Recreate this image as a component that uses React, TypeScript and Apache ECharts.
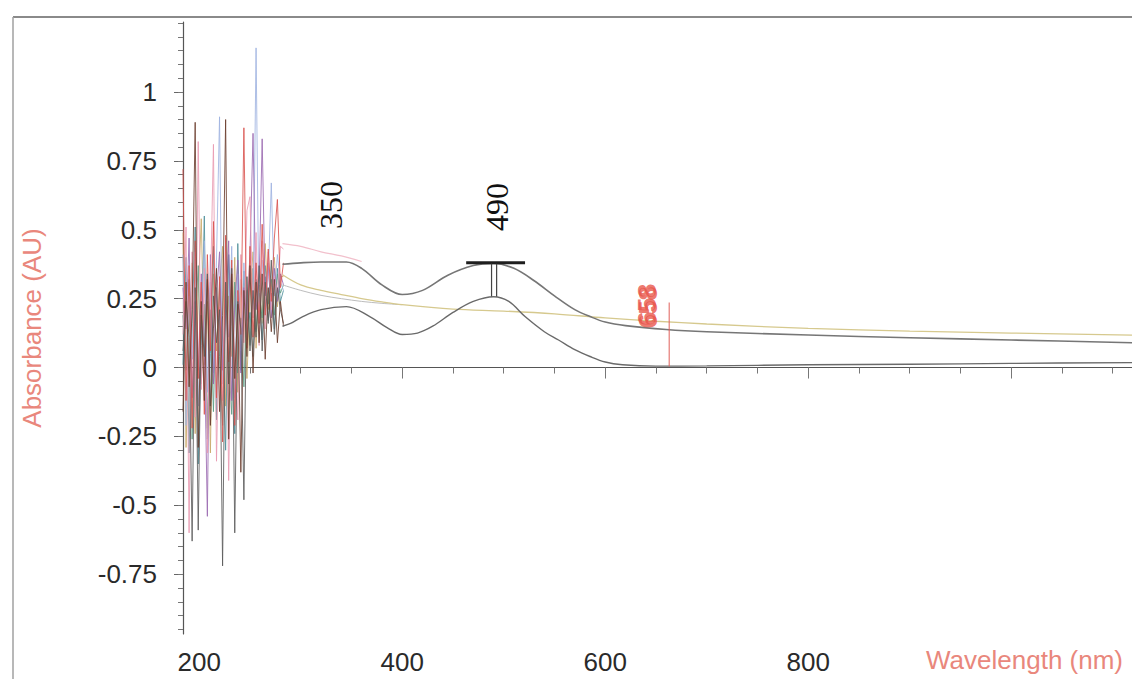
import React, { useEffect, useRef } from "react";
import * as echarts from "echarts";

// ---------- data ----------
const NOISE_NM = [184, 187, 190, 193, 196, 199, 202, 205, 208, 211, 214, 217, 220, 223, 226, 229, 232, 235, 238, 241, 244, 247, 250, 253, 256, 259, 262, 265, 268, 271, 274, 277, 280, 283];

const NOISE_RED = [0.72, -0.12, 0.37, -0.22, 0.46, -0.04, 0.31, -0.17, 0.41, 0.06, 0.53, -0.11, 0.33, -0.27, 0.48, 0.02, 0.39, -0.21, 0.28, 0.12, 0.87, 0.07, 0.44, 0.11, 0.38, 0.16, 0.52, 0.19, 0.43, 0.24, 0.47, 0.61, 0.29, 0.38];
const NOISE_PINK = [0.12, 0.51, -0.6, 0.42, -0.18, 0.82, -0.08, 0.36, -0.31, 0.27, 0.81, -0.34, 0.22, -0.12, 0.47, -0.41, 0.29, 0.04, -0.19, 0.41, 0.09, 0.57, 0.62, 0.18, 0.49, 0.08, 0.46, 0.14, 0.42, 0.21, 0.33, 0.27, 0.44, 0.43];
const NOISE_BROWN = [-0.16, 0.31, -0.07, 0.21, 0.89, -0.29, 0.24, -0.12, 0.32, -0.21, 0.14, 0.36, -0.16, 0.19, 0.9, -0.26, 0.34, -0.04, 0.23, -0.38, 0.28, 0.04, 0.37, -0.02, 0.31, 0.09, 0.34, 0.03, 0.29, 0.13, 0.32, 0.09, 0.24, 0.15];
const NOISE_BLUE = [0.41, -0.21, 0.26, 0.03, 0.42, -0.14, 0.18, 0.46, -0.09, 0.31, -0.02, 0.39, 0.91, -0.06, 0.28, 0.11, 0.44, -0.11, 0.34, 0.06, 0.38, 0.13, 0.36, 0.21, 1.16, 0.14, 0.39, 0.22, 0.33, 0.67, 0.26, 0.41, 0.31, 0.28];
const NOISE_GREEN = [0.19, -0.01, 0.32, -0.26, 0.16, 0.37, -0.06, 0.23, -0.22, 0.21, -0.16, 0.29, 0.04, -0.21, 0.26, 0.03, -0.17, 0.31, -0.02, 0.18, -0.07, 0.28, 0.08, 0.36, 0.13, 0.27, 0.18, 0.37, 0.23, 0.32, 0.19, 0.34, 0.27, 0.3];
const NOISE_PURPLE = [0.29, 0.14, 0.47, -0.11, 0.24, -0.01, 0.34, 0.09, -0.54, 0.41, -0.06, 0.26, 0.42, -0.01, 0.19, 0.46, -0.12, 0.23, 0.39, -0.02, 0.29, 0.17, 0.41, 0.85, 0.21, 0.31, 0.83, 0.26, 0.38, 0.18, 0.36, 0.24, 0.34, 0.3];
const NOISE_GRAY = [0.06, 0.24, 0.11, -0.63, 0.29, -0.59, 0.19, 0.04, 0.34, -0.14, 0.26, 0.09, 0.21, -0.72, 0.31, -0.06, 0.36, -0.6, 0.24, 0.14, -0.48, 0.33, 0.06, 0.28, 0.11, 0.37, 0.06, 0.31, 0.16, 0.39, 0.12, 0.29, 0.21, 0.16];
const NOISE_OLIVE = [0.49, -0.29, 0.12, 0.38, -0.24, 0.27, 0.54, 0.01, 0.24, -0.31, 0.34, 0.06, 0.29, 0.44, -0.14, 0.26, 0.04, 0.4, -0.09, 0.32, 0.2, -0.04, 0.26, 0.42, 0.07, 0.3, 0.16, 0.45, 0.21, 0.29, 0.4, 0.22, 0.33, 0.33];
const NOISE_TEAL = [0.01, 0.4, -0.31, 0.16, 0.51, -0.35, 0.08, 0.55, -0.26, 0.05, 0.44, -0.19, 0.31, 0.1, -0.3, 0.41, 0.15, -0.24, 0.45, -0.01, 0.35, 0.1, 0.2, 0.04, 0.32, 0.25, 0.1, 0.33, 0.17, 0.27, 0.14, 0.36, 0.24, 0.28];

const A_NM = [282, 300, 320, 345, 360, 380, 400, 420, 445, 470, 490, 510, 530, 550, 570, 585, 600, 620, 660, 700, 800, 900, 1000, 1119];
const A_VAL = [0.375, 0.38, 0.383, 0.383, 0.36, 0.3, 0.265, 0.28, 0.335, 0.37, 0.378, 0.36, 0.315, 0.26, 0.21, 0.185, 0.165, 0.152, 0.138, 0.13, 0.118, 0.108, 0.1, 0.09];

const B_NM = [282, 290, 302, 320, 345, 368, 385, 400, 415, 430, 450, 470, 490, 505, 521, 540, 554, 570, 585, 600, 617, 650, 700, 800, 900, 1000, 1119];
const B_VAL = [0.15, 0.16, 0.185, 0.21, 0.221, 0.185, 0.145, 0.12, 0.125, 0.15, 0.2, 0.24, 0.257, 0.24, 0.185, 0.13, 0.1, 0.065, 0.04, 0.02, 0.01, 0.005, 0.006, 0.01, 0.012, 0.015, 0.018];

const C_NM = [282, 300, 320, 340, 360, 380, 400, 450, 500, 550, 600, 650, 700, 800, 900, 1000, 1119];
const C_VAL = [0.337, 0.3, 0.28, 0.265, 0.25, 0.238, 0.228, 0.212, 0.205, 0.195, 0.18, 0.168, 0.158, 0.142, 0.132, 0.125, 0.118];

const D_NM = [282, 300, 320, 340, 360, 380, 400];
const D_VAL = [0.3, 0.28, 0.262, 0.25, 0.24, 0.233, 0.228];

const E_NM = [282, 300, 320, 340, 360];
const E_VAL = [0.45, 0.44, 0.42, 0.405, 0.385];

// peak markers
const BAR490_NM = [463, 521];
const BAR490_VAL = [0.38, 0.38];
const TICK490_NM = [488, 493];
const TICK490_VAL = [0.377, 0.258];
const MARK658_NM = 663;
const MARK658_VAL = [0.004, 0.236];

const X_LABELS = [200, 400, 600, 800];
const X_MAJOR_TICKS = [200, 400, 600, 800, 1000];
const X_MINOR_TICKS = [200, 250, 300, 350, 400, 450, 500, 550, 600, 650, 700, 750, 800, 850, 900, 950, 1000, 1050, 1100];
const Y_LABELS = [-0.75, -0.5, -0.25, 0, 0.25, 0.5, 0.75, 1];
const Y_MINOR_TICKS = [-0.95, -0.9, -0.85, -0.8, -0.75, -0.7, -0.65, -0.6, -0.55, -0.5, -0.45, -0.4, -0.35, -0.3, -0.25, -0.2, -0.15, -0.1, -0.05, 0, 0.05, 0.1, 0.15, 0.2, 0.25, 0.3, 0.35, 0.4, 0.45, 0.5, 0.55, 0.6, 0.65, 0.7, 0.75, 0.8, 0.85, 0.9, 0.95, 1, 1.05, 1.1, 1.15, 1.2, 1.25];

const ANNOT_BLACK = [
  { nm: 330, value: 0.59, text: "350" },
  { nm: 493, value: 0.583, text: "490" },
];
const ANNOT_RED = [
  { nm: 641, value: 0.228, text: "658" },
  { nm: 642, value: 0.218, text: "658" },
];

const X_MIN = 184;
const X_MAX = 1119;
const Y_MIN = -0.967;
const Y_MAX = 1.254;

const zip = (xs: number[], ys: number[]) => xs.map((x, i) => [x, ys[i]]);

export default function App() {
  const ref = useRef<HTMLDivElement>(null);
  useEffect(() => {
    if (!ref.current) return;
    const chart = echarts.init(ref.current, null, { renderer: "svg" });

    const noise = [
      { d: NOISE_OLIVE, c: "#c9a96a" },
      { d: NOISE_TEAL, c: "#4f8f9a" },
      { d: NOISE_GREEN, c: "#5f9e86" },
      { d: NOISE_BLUE, c: "#9fb3e0" },
      { d: NOISE_PURPLE, c: "#9a68b0" },
      { d: NOISE_PINK, c: "#e99ab2" },
      { d: NOISE_RED, c: "#d9534f" },
      { d: NOISE_GRAY, c: "#5a5a5a" },
      { d: NOISE_BROWN, c: "#6b3d2e" },
    ].map((s) => ({
      type: "line",
      data: zip(NOISE_NM, s.d),
      symbol: "none",
      lineStyle: { color: s.c, width: 1, opacity: 0.85 },
      silent: true,
      z: 2,
    }));

    const curve = (xs: number[], ys: number[], color: string, width: number) => ({
      type: "line",
      data: zip(xs, ys),
      symbol: "none",
      smooth: 0.35,
      lineStyle: { color, width },
      silent: true,
      z: 3,
    });

    const seg = (data: number[][], color: string, width: number) => ({
      type: "line",
      data,
      symbol: "none",
      lineStyle: { color, width },
      silent: true,
      z: 4,
    });

    const annot = (items: any[], color: string, font: string, size: number, weight: string, opacity = 1) => ({
      type: "scatter",
      data: items.map((a) => ({ value: [a.nm, a.value], name: a.text })),
      symbolSize: 0,
      silent: true,
      z: 5,
      label: {
        show: true,
        position: "inside",
        rotate: 90,
        formatter: (p: any) => p.name,
        color,
        opacity,
        fontFamily: font,
        fontSize: size,
        fontWeight: weight,
      },
    });

    const axisFont = "Liberation Sans, Arial, sans-serif";

    chart.setOption({
      animation: false,
      backgroundColor: "#ffffff",
      grid: { left: 183, top: 22, right: 0, bottom: 45, containLabel: false },
      xAxis: [
        {
          type: "value",
          min: X_MIN,
          max: X_MAX,
          position: "bottom",
          axisLine: { show: true, lineStyle: { color: "#555", width: 1.2 } },
          axisTick: { show: true, customValues: X_MINOR_TICKS, length: 6, lineStyle: { color: "#777" } },
          axisLabel: {
            show: true,
            customValues: X_LABELS,
            fontSize: 26,
            color: "#2a2a2a",
            fontFamily: axisFont,
            margin: 15,
          },
          splitLine: { show: false },
        },
        {
          type: "value",
          min: X_MIN,
          max: X_MAX,
          position: "bottom",
          axisLine: { show: false },
          axisTick: { show: true, customValues: X_MAJOR_TICKS, length: 11, lineStyle: { color: "#777" } },
          axisLabel: { show: false },
          splitLine: { show: false },
        },
      ],
      yAxis: [
        {
          type: "value",
          min: Y_MIN,
          max: Y_MAX,
          position: "left",
          name: "Absorbance (AU)",
          nameLocation: "middle",
          nameGap: 138,
          nameTextStyle: { color: "#e9877c", fontSize: 26, fontFamily: axisFont },
          axisLine: { show: true, lineStyle: { color: "#555", width: 1.2 } },
          axisTick: { show: true, customValues: Y_LABELS, length: 9, lineStyle: { color: "#666" } },
          axisLabel: {
            show: true,
            customValues: Y_LABELS,
            fontSize: 26,
            color: "#2a2a2a",
            fontFamily: axisFont,
            margin: 26,
          },
          splitLine: { show: false },
        },
        {
          type: "value",
          min: Y_MIN,
          max: Y_MAX,
          position: "left",
          axisLine: { show: false },
          axisTick: { show: true, customValues: Y_MINOR_TICKS, length: 5, lineStyle: { color: "#777" } },
          axisLabel: { show: false },
          splitLine: { show: false },
        },
      ],
      graphic: [
        { type: "line", shape: { x1: 13, y1: 17, x2: 1132, y2: 17 }, style: { stroke: "#8a8a8a", lineWidth: 2 } },
        { type: "line", shape: { x1: 13, y1: 17, x2: 13, y2: 679 }, style: { stroke: "#a0a0a0", lineWidth: 1.5 } },
        {
          type: "text",
          left: 926,
          top: 647,
          style: { text: "Wavelength (nm)", fill: "#e9877c", fontSize: 26, fontFamily: axisFont },
        },
      ],
      series: [
        ...noise,
        curve(E_NM, E_VAL, "#f2c0cc", 1.2),
        curve(D_NM, D_VAL, "#bdbdbd", 1),
        curve(C_NM, C_VAL, "#d6c98e", 1.3),
        curve(A_NM, A_VAL, "#767676", 1.6),
        curve(B_NM, B_VAL, "#6a6a6a", 1.4),
        seg(zip(BAR490_NM, BAR490_VAL), "#1e1e1e", 3),
        seg([[TICK490_NM[0], TICK490_VAL[0]], [TICK490_NM[0], TICK490_VAL[1]]], "#444", 1.2),
        seg([[TICK490_NM[1], TICK490_VAL[0]], [TICK490_NM[1], TICK490_VAL[1]]], "#444", 1.2),
        seg([[MARK658_NM, MARK658_VAL[0]], [MARK658_NM, MARK658_VAL[1]]], "#e0605a", 1),
        annot(ANNOT_BLACK, "#111111", "Liberation Serif, Times New Roman, serif", 32, "normal"),
        annot(ANNOT_RED, "#e8554a", axisFont, 25, "bold", 0.8),
      ],
    });
    return () => chart.dispose();
  }, []);
  return <div ref={ref} style={{ position: "fixed", left: 0, top: 0, width: 1132, height: 679 }} />;
}
